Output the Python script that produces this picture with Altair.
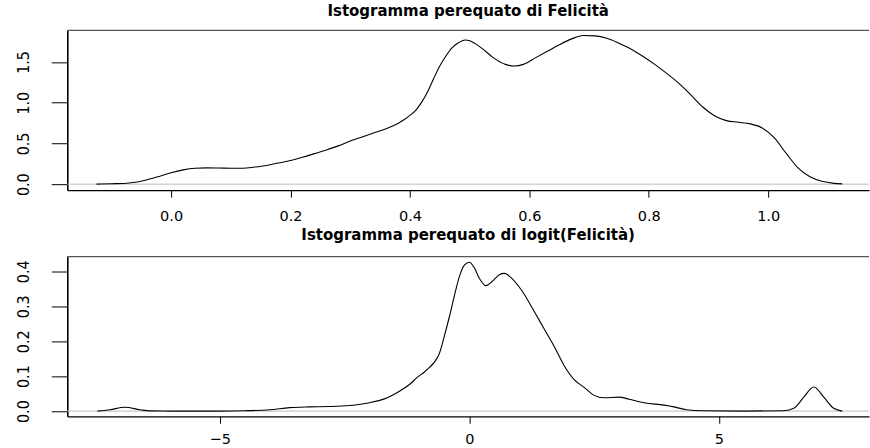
import altair as alt
import pandas as pd

# ---- data (kernel density curves) ----
felicita_x = [-0.125, -0.10, -0.07, -0.04, -0.02, 0.00, 0.02, 0.04, 0.06, 0.08, 0.10, 0.12,
              0.14, 0.16, 0.18, 0.20, 0.22, 0.24, 0.26, 0.28, 0.30, 0.32, 0.34, 0.36, 0.38,
              0.39, 0.40, 0.41, 0.42, 0.43, 0.44, 0.45, 0.46, 0.47, 0.48, 0.493, 0.50, 0.52,
              0.54, 0.56, 0.575, 0.59, 0.61,
              0.63, 0.65, 0.67, 0.69, 0.71, 0.73, 0.75, 0.77, 0.79, 0.81, 0.83, 0.85, 0.87,
              0.89, 0.91, 0.93, 0.95, 0.97, 0.99, 1.01, 1.03, 1.05, 1.07, 1.09, 1.11, 1.124]
felicita_y = [0.0, 0.005, 0.015, 0.055, 0.095, 0.14, 0.175, 0.195, 0.2, 0.198, 0.195, 0.195,
              0.21, 0.23, 0.26, 0.29, 0.33, 0.375, 0.42, 0.47, 0.53, 0.58, 0.63, 0.68, 0.745,
              0.79, 0.845, 0.91, 1.01, 1.14, 1.3, 1.45, 1.57, 1.67, 1.73, 1.77, 1.76, 1.67,
              1.55, 1.47, 1.45, 1.47, 1.55,
              1.63, 1.71, 1.78, 1.825, 1.82, 1.79, 1.73, 1.66, 1.57, 1.47, 1.36, 1.24, 1.1,
              0.95, 0.84, 0.78, 0.76, 0.74, 0.69, 0.57, 0.38, 0.2, 0.09, 0.035, 0.01, 0.003]

logit_x = [-7.45, -7.2, -6.9, -6.6, -6.4, -6.0, -5.0, -4.5, -4.0, -3.6, -3.2, -2.8, -2.4,
           -2.0, -1.7, -1.4, -1.2, -1.04, -0.9, -0.8, -0.7, -0.6, -0.5, -0.4, -0.3, -0.2,
           -0.1, 0.0, 0.1, 0.2, 0.33,
           0.45, 0.6, 0.7, 0.85, 1.05, 1.3, 1.5, 1.7, 1.9, 2.1, 2.3, 2.5, 2.7, 3.0, 3.2,
           3.5, 3.9, 4.1, 4.35, 4.7, 5.5, 6.3, 6.5, 6.7, 6.9, 7.1, 7.3, 7.47]
logit_y = [0.0, 0.004, 0.011, 0.004, 0.0005, 0.0, 0.0, 0.001, 0.004, 0.01, 0.012, 0.013, 0.016,
           0.024, 0.035, 0.057, 0.076, 0.097, 0.112, 0.125, 0.14, 0.165, 0.215, 0.27, 0.33,
           0.385, 0.418, 0.426, 0.41, 0.38, 0.359,
           0.37, 0.39, 0.394, 0.38, 0.345, 0.285, 0.235, 0.185, 0.13, 0.09, 0.068, 0.045, 0.038,
           0.04, 0.034, 0.024, 0.017, 0.012, 0.004, 0.001, 0.0, 0.001, 0.008, 0.04, 0.069, 0.04,
           0.008, 0.0]

top_title = "Istogramma perequato di Felicità"
bot_title = "Istogramma perequato di logit(Felicità)"
top_x_ticks = [0.0, 0.2, 0.4, 0.6, 0.8, 1.0]
top_y_ticks = [0.0, 0.5, 1.0, 1.5]
bot_x_ticks = [-5, 0, 5]
bot_y_ticks = [0.0, 0.1, 0.2, 0.3, 0.4]

W = 803
H = 160
YFONT = "Liberation Sans Narrow, DejaVu Sans Condensed, Liberation Sans"


def panel(xs_, ys_, title, xdom, ydom, xt, yt, xfmt, yfmt, toff, xpad):
    df = pd.DataFrame({"x": xs_, "y": ys_})
    zero_df = pd.DataFrame({"z": [0.0]})
    xsc = alt.Scale(domain=xdom, nice=False, zero=False)
    ysc = alt.Scale(domain=ydom, nice=False, zero=False)
    xax = alt.Axis(values=xt, format=xfmt, title=None, grid=False,
                   domainColor="black", domainWidth=1.3, tickColor="black",
                   tickSize=7, tickWidth=1, labelFont="DejaVu Sans", labelFontSize=14.5,
                   labelColor="black", labelPadding=xpad, labelBaseline="alphabetic",
                   labelFlush=False, labelOverlap=False)
    yax = alt.Axis(values=yt, format=yfmt, title=None, grid=False,
                   domainColor="black", domainWidth=1.6, tickColor="black",
                   tickSize=16, tickWidth=1, labelFont=YFONT, labelFontSize=16,
                   labelColor="black", labelAngle=270, labelAlign="center",
                   labelBaseline="alphabetic", labelPadding=23,
                   labelFlush=False, labelOverlap=False)
    zero = alt.Chart(zero_df).mark_rule(color="#BEBEBE", strokeWidth=1).encode(
        x=alt.value(0), x2=alt.value(W),
        y=alt.Y("z:Q", scale=ysc, axis=yax))
    border = alt.Chart(zero_df).mark_rule(color="#555555", strokeWidth=1.2).encode(
        x=alt.value(0), x2=alt.value(W), y=alt.value(0))
    line = alt.Chart(df).mark_line(color="black", strokeWidth=1.1,
                                   interpolate="monotone").encode(
        x=alt.X("x:Q", scale=xsc, axis=xax),
        y=alt.Y("y:Q", scale=ysc, axis=yax))
    return alt.layer(zero, border, line).properties(
        width=W, height=H,
        title=alt.TitleParams(title, font="DejaVu Sans", fontSize=15, fontWeight="bold",
                              color="black", anchor="middle", baseline="alphabetic",
                              offset=toff, frame="group"))


top = panel(felicita_x, felicita_y, top_title, [-0.1739, 1.1689], [-0.0735, 1.887],
            top_x_ticks, top_y_ticks, ".1f", ".1f", -1, 23)
bot = panel(logit_x, logit_y, bot_title, [-8.054, 8.006], [-0.01486, 0.4423],
            bot_x_ticks, bot_y_ticks, "d", ".1f", 1, 20.5)

chart = alt.vconcat(top, bot, spacing=66.5, bounds="flush").configure_view(
    stroke=None).properties(
    background="white",
    padding={"left": 14.4, "top": 3.1, "right": 0, "bottom": 0})

chart.save("out.html", embed_options={"renderer": "svg", "actions": False})
